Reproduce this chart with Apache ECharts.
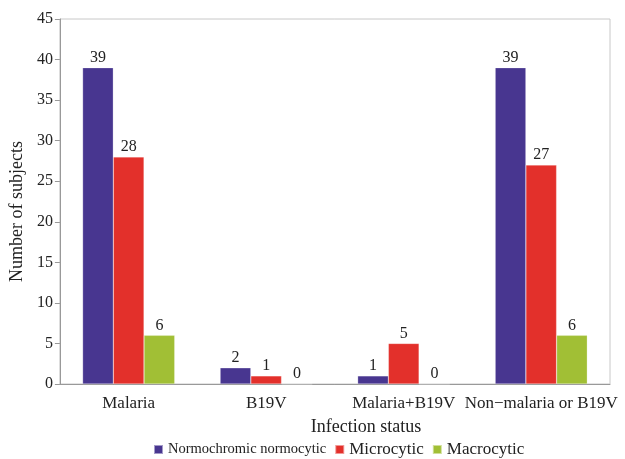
<!DOCTYPE html>
<html>
<head>
<meta charset="utf-8">
<script src="https://cdn.jsdelivr.net/npm/echarts@6/dist/echarts.min.js"></script>
<style>
  html, body { margin: 0; padding: 0; background: #fff; }
  #chart { width: 625px; height: 459px; }
</style>
</head>
<body>
<div id="chart"></div>
<script>
const categories = ["Malaria", "B19V", "Malaria+B19V", "Non\u2212malaria or B19V"];
const normochromic = [39, 2, 1, 39];
const microcytic = [28, 1, 5, 27];
const macrocytic = [6, 0, 0, 6];
const yTicks = { min: 0, max: 45, interval: 5 };

const font = "Liberation Serif";
const textColor = "#222";

const chart = echarts.init(document.getElementById("chart"), null, { renderer: "canvas" });

const barLabel = {
  show: true,
  position: "top",
  distance: 2,
  color: textColor,
  fontFamily: font,
  fontSize: 16,
};

const makeSeries = (name, data, color) => ({
  name,
  type: "bar",
  data,
  barGap: "0%",
  barCategoryGap: "33%",
  itemStyle: { color, borderColor: "rgba(255,255,255,0.5)", borderWidth: 0.5 },
  label: barLabel,
});

chart.setOption({
  animation: false,
  textStyle: { fontFamily: font },
  grid: {
    left: 52,
    right: 15,
    top: 19,
    bottom: 75,
    show: true,
    borderColor: "#c8c8c8",
    borderWidth: 1,
  },
  legend: {
    bottom: -4,
    left: 148,
    itemWidth: 9,
    itemHeight: 9,
    itemGap: 8,
    icon: "rect",
    textStyle: { fontFamily: font, fontSize: 17, color: textColor },
    data: [
      { name: "Normochromic normocytic", textStyle: { fontSize: 14.5 } },
      "Microcytic",
      "Macrocytic",
    ],
  },
  xAxis: {
    type: "category",
    data: categories,
    name: "Infection status",
    nameLocation: "middle",
    nameGap: 34,
    nameTextStyle: { fontFamily: font, fontSize: 18, color: textColor, padding: [0, 0, 0, 62] },
    axisLine: { lineStyle: { color: "#999", width: 1 } },
    axisTick: { show: false },
    axisLabel: { interval: 0, fontFamily: font, fontSize: 17, color: textColor, margin: 11 },
  },
  yAxis: {
    type: "value",
    min: yTicks.min,
    max: yTicks.max,
    interval: yTicks.interval,
    name: "Number of subjects",
    nameLocation: "middle",
    nameGap: 25,
    nameTextStyle: { fontFamily: font, fontSize: 18, color: textColor, padding: [0, 20, 0, 0] },
    axisLine: { show: true, lineStyle: { color: "#999", width: 1 } },
    axisTick: { show: true, length: 5, lineStyle: { color: "#999" } },
    splitLine: { show: false },
    axisLabel: { fontFamily: font, fontSize: 16, color: textColor, margin: 7 },
  },
  series: [
    makeSeries("Normochromic normocytic", normochromic, "#483690"),
    makeSeries("Microcytic", microcytic, "#e3302b"),
    makeSeries("Macrocytic", macrocytic, "#a1bf35"),
  ],
});
</script>
</body>
</html>
